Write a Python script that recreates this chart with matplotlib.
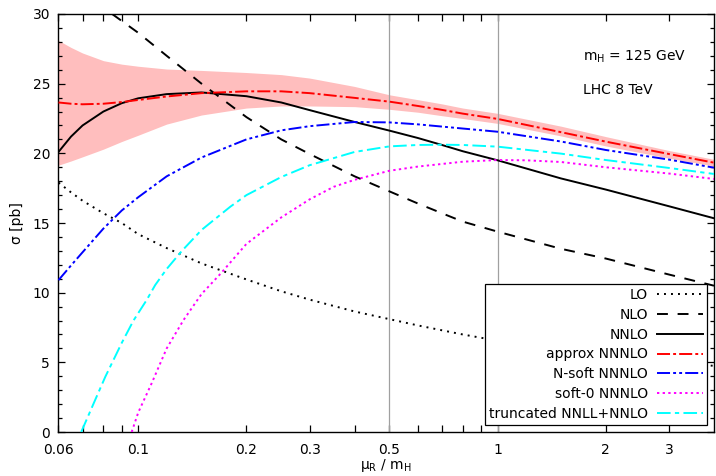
import matplotlib
matplotlib.use("Agg")
import matplotlib.pyplot as plt
from matplotlib.ticker import FixedLocator, FixedFormatter, MultipleLocator, NullFormatter

plt.rcParams["font.family"] = ["DejaVu Sans"]
plt.rcParams["font.size"] = 10

# scale grid mu_R / m_H used by most curves
mu = [0.06, 0.065, 0.07, 0.08, 0.09, 0.1, 0.12, 0.15, 0.2, 0.25, 0.3, 0.4,
      0.5, 0.6, 0.7, 0.8, 1.0, 1.5, 2.0, 3.0, 4.0]

lo = [17.9, 17.2, 16.6, 15.7, 15.0, 14.2, 13.2, 12.1, 10.95, 10.1, 9.5, 8.65,
      8.1, 7.65, 7.3, 7.0, 6.55, 5.9, 5.5, 5.0, 4.75]
nnlo = [20.1, 21.2, 22.0, 23.0, 23.6, 23.95, 24.25, 24.37, 24.1, 23.65, 23.1, 22.25,
        21.63, 21.1, 20.6, 20.15, 19.5, 18.2, 17.4, 16.2, 15.34]
approx = [23.65, 23.56, 23.52, 23.56, 23.68, 23.83, 24.08, 24.32, 24.45, 24.45, 24.32, 23.98,
          23.71, 23.4, 23.12, 22.85, 22.47, 21.52, 20.84, 19.95, 19.33]
approx_hi = [28.1, 27.6, 27.2, 26.65, 26.4, 26.25, 26.05, 25.95, 25.8, 25.65, 25.4, 24.8,
             24.2, 23.85, 23.55, 23.25, 22.87, 21.95, 21.2, 20.2, 19.57]
approx_lo = [19.15, 19.45, 19.75, 20.3, 20.85, 21.3, 22.1, 22.75, 23.25, 23.4, 23.4, 23.35,
             23.16, 22.95, 22.7, 22.5, 22.15, 21.25, 20.53, 19.65, 19.09]
nsoft = [10.9, 11.95, 12.9, 14.6, 15.9, 16.85, 18.35, 19.7, 21.0, 21.65, 21.95, 22.25,
         22.22, 22.08, 21.92, 21.78, 21.55, 20.85, 20.24, 19.55, 18.97]

# NLO leaves the frame at the top
mu_nlo = [0.0846, 0.09, 0.1, 0.12, 0.15, 0.2, 0.25, 0.3, 0.4, 0.5, 0.6, 0.7, 0.8,
          1.0, 1.5, 2.0, 3.0, 4.0]
nlo = [30.0, 29.5, 28.65, 27.0, 25.0, 22.6, 21.0, 19.95, 18.35, 17.27, 16.4, 15.7, 15.1,
       14.38, 13.15, 12.45, 11.3, 10.5]

# soft-0 and truncated curves start at zero
mu_soft0 = [0.0959, 0.1, 0.109, 0.12, 0.1337, 0.15, 0.17, 0.2, 0.25, 0.3, 0.35, 0.4,
            0.5, 0.6, 0.8, 1.0, 1.2, 1.5, 2.0, 3.0, 4.0]
soft0 = [0.0, 1.4, 3.5, 6.0, 8.04, 9.9, 11.4, 13.5, 15.4, 16.7, 17.6, 18.1,
         18.75, 19.05, 19.4, 19.52, 19.5, 19.38, 19.0, 18.55, 18.16]
mu_trunc = [0.0694, 0.075, 0.081, 0.09, 0.097, 0.1057, 0.1115, 0.12, 0.1323, 0.15, 0.1804,
            0.2, 0.25, 0.3, 0.4, 0.5, 0.6, 0.7, 0.8, 1.0, 1.5, 2.0, 3.0, 4.0]
trunc = [0.0, 2.0, 3.97, 6.4, 8.0, 9.5, 10.55, 11.7, 13.0, 14.5, 16.17,
         17.0, 18.3, 19.15, 20.1, 20.5, 20.6, 20.62, 20.6, 20.48, 19.98, 19.52, 18.95, 18.52]

xticks = [0.06, 0.1, 0.2, 0.3, 0.5, 1, 2, 3]
xtick_labels = ["0.06", "0.1", "0.2", "0.3", "0.5", "1", "2", "3"]
xminor = [0.07, 0.08, 0.09, 0.4, 0.6, 0.7, 0.8, 0.9]
vlines = [0.5, 1.0]

fig = plt.figure(figsize=(7.16, 4.76), dpi=100)
ax = fig.add_axes([0.0817, 0.0924, 0.9155, 0.8782])

ax.fill_between(mu, approx_lo, approx_hi, color="#ffbebe", lw=0, zorder=1)
for v in vlines:
    ax.axvline(v, color="#a0a0a0", lw=0.9, zorder=2)

lw = 1.4
ax.plot(mu, lo, color="black", lw=lw, dashes=(1.0, 2.6), label="LO", zorder=3)
ax.plot(mu_nlo, nlo, color="black", lw=lw, dashes=(5.6, 5.0), label="NLO", zorder=3)
ax.plot(mu, nnlo, color="black", lw=lw, label="NNLO", zorder=3)
ax.plot(mu, approx, color="red", lw=lw, dashes=(6.7, 1.6, 1.5, 1.6),
        label="approx NNNLO", zorder=4)
ax.plot(mu, nsoft, color="blue", lw=lw, dashes=(6.7, 1.6, 1.5, 1.6, 1.5, 1.6),
        label="N-soft NNNLO", zorder=3)
ax.plot(mu_soft0, soft0, color="magenta", lw=lw, dashes=(1.2, 1.7),
        label="soft-0 NNNLO", zorder=3)
ax.plot(mu_trunc, trunc, color="cyan", lw=lw, dashes=(7.0, 2.2, 2.2, 2.2),
        label="truncated NNLL+NNLO", zorder=3)

ax.set_xscale("log")
ax.set_xlim(0.06, 4.0)
ax.set_ylim(0, 30)

ax.xaxis.set_major_locator(FixedLocator(xticks))
ax.xaxis.set_major_formatter(FixedFormatter(xtick_labels))
ax.xaxis.set_minor_locator(FixedLocator(xminor))
ax.xaxis.set_minor_formatter(NullFormatter())
ax.yaxis.set_major_locator(MultipleLocator(5))
ax.yaxis.set_minor_locator(MultipleLocator(1))

ax.tick_params(which="both", direction="in", top=True, right=True, width=0.9)
ax.tick_params(axis="y", which="major", length=5, pad=6)
ax.tick_params(axis="y", which="minor", length=3)
ax.tick_params(axis="x", which="both", length=5, pad=8)
for s in ax.spines.values():
    s.set_linewidth(1.0)

ax.set_xlabel("\u03bc$_\\mathregular{R}$ / m$_\\mathregular{H}$", labelpad=0)
ax.set_ylabel("\u03c3 [pb]", labelpad=6)

ax.text(0.80, 0.897, "m$_\\mathregular{H}$ = 125 GeV", transform=ax.transAxes, va="center")
ax.text(0.80, 0.818, "LHC 8 TeV", transform=ax.transAxes, va="center")

leg = ax.legend(loc="lower right", markerfirst=False, fancybox=False, framealpha=1,
                edgecolor="black", handlelength=3.3, handletextpad=0.65,
                labelspacing=0.42, borderpad=0.3, borderaxespad=0.5)
leg.get_frame().set_linewidth(0.9)
leg.set_zorder(10)

fig.savefig("out.png", dpi=100)
